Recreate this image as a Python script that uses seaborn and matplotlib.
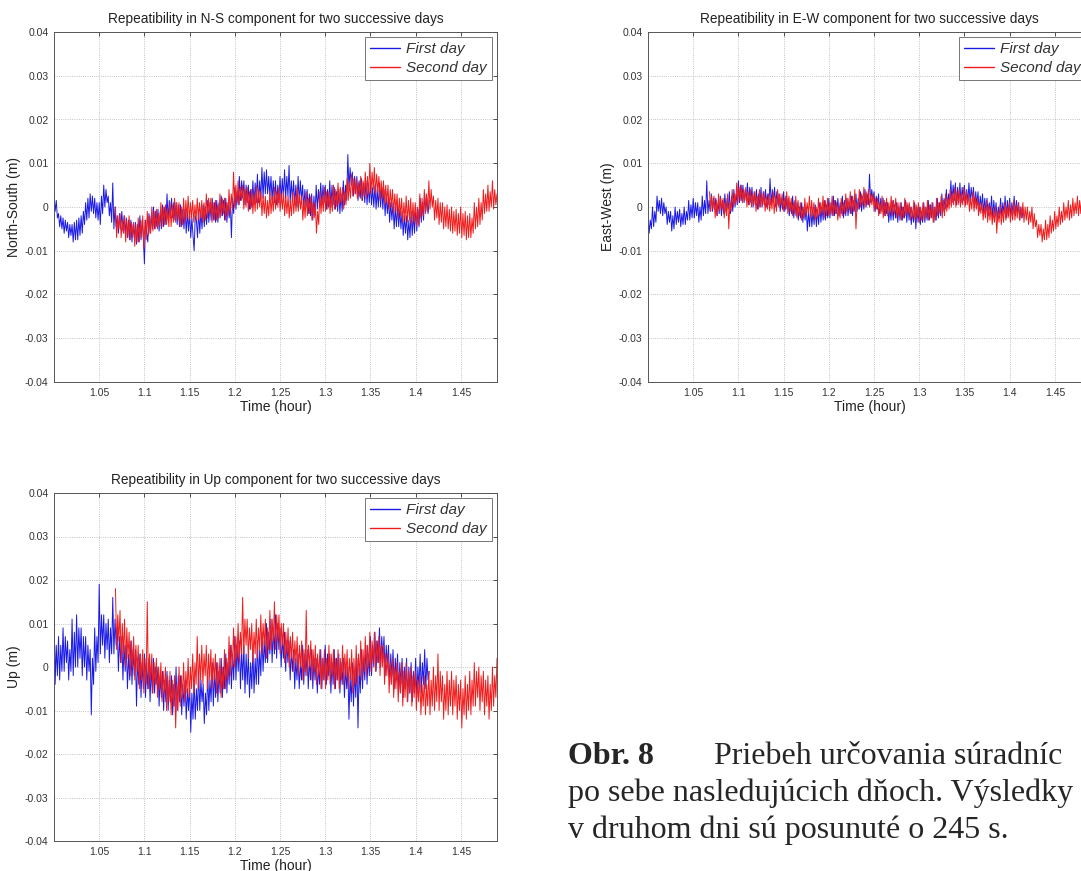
import numpy as np
import pandas as pd
import matplotlib
matplotlib.use("Agg")
import matplotlib.pyplot as plt
import matplotlib.ticker as mticker
from matplotlib.lines import Line2D
import seaborn as sns

# time spans (hour) of the two days, second day shifted by 245 s
first_start, first_end = 1.0, 1.415
second_start, second_end = 1.068, 1.49

# values, in mm (4 samples per 0.005 h)
ns_first = [
    2.5, -1, 1.5, -2.5, -1.5, -4.5, -2, -5, -2.5, -6, -3, -5.5,
    -3.5, -7, -4, -6.5, -4, -8, -3.5, -7.5, -3, -7.5, -2.5, -6.5,
    -2, -6, -1, -4, 1, -3, 2, -2.5, 3, -1, 2.5, -1.5,
    2, -2.5, 1, -3, 1, -4, 2.5, -1.5, 5, 0, 4, 1,
    2.5, -2, 1, -3.5, 5.5, -5, 0, -4.5, -2, -6, -1.5, -5,
    -1, -5.5, -2, -6, -2.5, -7, -3, -7.5, -3, -8, -4, -7,
    -3.5, -8.5, -4, -8, -2, -7.5, -3, -6.5, -13, -3, -6, -8,
    -1.5, -6, -2, -5, 0, -5, -1, -4.5, -0.5, -5.5, -1, -5,
    0.5, -4.5, 0, -4, 3, -3, 1.5, -2.5, 2, -2.5, 1, -3,
    1, -4, 0.5, -4.5, 0.5, -4.5, -0.5, -5, -0.5, -6, -1, -5.5,
    -1.5, -7, -2.5, -6.5, -10, -2, -3, -7, -0.5, -6, -1, -5,
    0.5, -4.5, 0, -4, 1.5, -3.5, 1, -3, 2, -3, 1, -3.5,
    1.5, -3.5, 1, -2.5, 2.5, -2, 1.5, -3, 2, -3.5, 1, -2.5,
    1, -7, 2, -1.5, 4.5, -0.5, 3.5, 0.5, 7, 1.5, 6, 2,
    6, 0.5, 5, 1, 5, -0.5, 4, 0, 6, 0.5, 5.5, 1,
    7.5, 1, 6, 2, 9, 2, 8, 3, 8.5, 3, 7, 2.5,
    7, 1.5, 6, 1, 6, 0.5, 5, 1, 7, 1.5, 6.5, 2,
    8.5, 2, 7, 2.5, 9.5, 1, 6, 1.5, 6, 0.5, 5, 0,
    7, 1, 6, 1.5, 5, -0.5, 4, 0, 4, -1.5, 3, -2,
    3, -3, 2.5, -2, 5, -0.5, 4, 0, 5.5, 0.5, 5, 1,
    5, -0.5, 4, 0, 6, 0, 5, 0.5, 4.5, -0.5, 3.5, -1,
    4, -1.5, 3, -1, 6, 0.5, 5, 1.5, 12, 4, 9, 5,
    8, 2.5, 7, 3, 7, 1.5, 6, 2, 6.5, 1.5, 5.5, 1,
    6, 0.5, 5, 1, 5.5, 0.5, 4.5, 0, 5, -0.5, 4, 0,
    5.5, 0, 4.5, -0.5, 4, -2, 3, -1.5, 2, -3.5, 1, -3,
    1, -5, 0, -4.5, 0.5, -4.5, -0.5, -5, -1, -6.5, -2, -6,
    -2, -7.5, -3, -7, -1, -6.5, -1.5, -6, 0, -5.5, -0.5, -4.5,
    2, -3.5, 1, -3, 3, -1, 2, -1.5, 1.5]
ns_second = [
    0, -7, -2, -5, -1.5, -7, -3, -6, -2, -8, -3, -7,
    -2, -7.5, -3.5, -6.5, -3.5, -9, -4, -8, -2.5, -8, -3, -7,
    -2, -9.5, -3, -7.5, -1, -6.5, -2, -6, 0, -5.5, -1, -5,
    -0.5, -5, -1.5, -4.5, 1, -4.5, 0, -4, 0.5, -4, -0.5, -4.5,
    1, -4.5, 0.5, -3.5, 2, -3.5, 1, -3, 1, -4.5, 0, -4,
    2, -3.5, 1.5, -2.5, 2.5, -3, 1, -2.5, 1.5, -3.5, 0.5, -3,
    2, -3, 1, -2.5, 1.5, -3.5, 1, -3, 3, -2.5, 2, -1.5,
    2, -3.5, 1, -3, 1.5, -3, 0.5, -2.5, 3, -2, 2, -1.5,
    2, -3, 1, -2, 4, -1.5, 3, -0.5, 8, 0, 5, 1,
    6, 0.5, 4.5, 1.5, 5, -0.5, 4, 0, 4.5, -1, 3.5, -0.5,
    4, -1.5, 3, -1, 5, -0.5, 4, 0, 3.5, -2, 2.5, -1.5,
    2.5, -2.5, 1.5, -2, 3.5, -1.5, 2.5, -1, 4.5, -0.5, 3.5, 0,
    4.5, -1, 3, -0.5, 3.5, -2, 2.5, -1.5, 2.5, -2.5, 1.5, -2,
    3.5, -1.5, 2.5, -1, 4.5, -1, 3, -0.5, 2.5, -3, 1.5, -2.5,
    3.5, -2, 2, -1.5, 2.5, -3, 1, -2.5, 1, -6, -1, -4,
    3.5, -1.5, 2.5, -1, 4.5, -1, 3.5, -0.5, 3.5, -1.5, 2.5, -1,
    5, -0.5, 4, 0, 5.5, 0.5, 4.5, 1, 4.5, -0.5, 3.5, 0.5,
    6.5, 1.5, 5.5, 2, 7.5, 2.5, 6.5, 3, 6.5, 2, 5.5, 2.5,
    7, 1.5, 6, 2.5, 8, 2, 7, 3, 10, 3, 8, 4,
    9, 3, 7.5, 3.5, 7, 1.5, 6, 2, 6, 0.5, 5, 1,
    5, -0.5, 4, 0, 4, -1.5, 3, -1, 3, -2.5, 2, -2,
    2, -3.5, 1, -3, 2.5, -3.5, 1.5, -3, 2, -4, 1, -3.5,
    1, -4.5, 0, -4, 3, -2.5, 2, -2, 4, -1.5, 3, -1,
    6, -0.5, 4, 0, 2.5, -3, 1.5, -2.5, 2, -4, 1, -3.5,
    1, -5, 0, -4.5, 0.5, -5, -0.5, -5.5, 0, -6, -1, -5.5,
    -0.5, -6.5, -1.5, -6, 0, -7, -1.5, -6.5, -1, -7.5, -2, -7,
    -1.5, -7, -2.5, -6, 1, -5, 0, -4.5, 2, -4, 1, -3,
    4, -1.5, 3, -1, 5, -1, 3.5, 0, 6, -0.5, 4, 0.5, 3]

ew_first = [
    -2, -6, -3, -5, 0, -4.5, -1, -3.5, 2.5, -1, 1.5, -1.5,
    2, -2, 1, -1.5, 0, -4, -1, -3.5, -1, -5.5, -2, -5,
    0, -4, -1, -3.5, -0.5, -4.5, -1.5, -4, 0, -4, -1, -3,
    1.5, -3, 0.5, -2.5, 2, -2.5, 1, -2, 1, -3.5, 0, -3,
    2.5, -2, 1.5, -1.5, 6, -1.5, 1.5, -1, 3, -1, 2, -0.5,
    2, -2, 1, -1.5, 2.5, -2, 1.5, -1.5, 3, -1, 2, -0.5,
    3.5, -1.5, 2.5, -1, 4, 0, 3, 0.5, 6, 1, 5, 1.5,
    5, 1, 4, 1.5, 5.5, 0.5, 4.5, 1, 4.5, 0, 3.5, 0.5,
    4, -0.5, 3, 0, 4.5, 0, 3.5, 0.5, 4, 0, 3, 0.5,
    6.5, 0.5, 4, 1, 4.5, 0, 3.5, 0.5, 3, -1, 2, -0.5,
    3.5, -1, 2.5, -0.5, 2, -2, 1, -1.5, 2.5, -2.5, 1.5, -2,
    1, -3, 0, -2.5, 1, -3.5, 0, -3, 0, -5.5, -1, -4.5,
    0, -4.5, -1, -4, 0.5, -4.5, -0.5, -4, 1, -3.5, 0, -3,
    1.5, -3, 0.5, -2.5, 2, -2.5, 1, -2, 2.5, -2, 1.5, -1.5,
    2, -2, 1, -1.5, 2.5, -2.5, 1.5, -2, 2, -2, 1, -1.5,
    2.5, -2, 1.5, -1, 3, -1, 2, -0.5, 3.5, -1, 2.5, -0.5,
    4, 0, 3, 0.5, 7.5, 1, 4, 1.5, 3.5, -1, 2.5, -0.5,
    3, -1.5, 2, -1, 2, -2, 1, -1.5, 1, -3.5, 0, -3,
    1.5, -3, 0.5, -2.5, 1, -3.5, 0, -3, 1, -3, 0, -2.5,
    1.5, -3.5, 0.5, -3, 0, -4, -1, -3.5, 1, -5, 0, -3.5,
    0, -4, -1, -3.5, 1, -3.5, 0, -3, 1.5, -3, 0.5, -2.5,
    1, -3.5, 0, -3, 2, -2.5, 1, -2, 3, -1, 2, -0.5,
    4, 0, 3, 0.5, 6, 1, 5, 1.5, 5.5, 0.5, 4.5, 1,
    5.5, 1, 4.5, 1.5, 5, 0.5, 4, 1, 5.5, 1, 4.5, 1.5,
    4.5, 0, 3.5, 0.5, 3.5, -1, 2.5, -0.5, 3, -1.5, 2, -1,
    2, -2, 1, -1.5, 2.5, -2.5, 1.5, -2, 1, -3, 0, -2.5,
    2, -2, 1, -1.5, 2.5, -2.5, 1.5, -2, 2, -2, 1, -1.5,
    2.5, -2, 1.5, -1.5, 1, -3, 0, -2.5, -0.5]
ew_second = [
    3.5, -1, 2.5, -0.5, 2.5, -2.5, 1.5, -2, 3, -1, 2, -0.5,
    2, -2.5, 1, -2, 3, -5, 1, -1, 4, 0, 3, 0.5,
    5.5, 1, 4.5, 1.5, 5, 1, 4, 1.5, 4.5, 0, 3.5, 0.5,
    4, 0, 3, 0.5, 3.5, -1, 2.5, -0.5, 4, 0, 3, 0.5,
    3.5, -1, 2.5, -0.5, 3, -1, 2, -0.5, 3.5, -1.5, 2.5, -1,
    4, 0, 3, 0.5, 3, -1, 2, -0.5, 3.5, -1.5, 2.5, -1,
    2, -2, 1, -1.5, 2.5, -2.5, 1.5, -2, 1, -3, 0, -2.5,
    2, -2, 1, -1.5, 2.5, -2.5, 1.5, -2, 1, -3, 0, -2.5,
    2, -2, 1, -1.5, 2.5, -2.5, 1.5, -2, 2, -2, 1, -1.5,
    2.5, -2, 1.5, -1.5, 1, -3, 0, -2.5, 2, -2, 1, -1.5,
    3, -1, 2, -0.5, 3.5, -1.5, 2.5, -1, 4, -5, 1, -0.5,
    4, 0, 3, 0.5, 4.5, 0, 3.5, 0.5, 4, 0, 3, 0.5,
    3, -1, 2, -0.5, 2, -2, 1, -1.5, 2.5, -2.5, 1.5, -2,
    2, -2, 1, -1.5, 2.5, -2, 1.5, -1.5, 2, -2.5, 1, -2,
    1, -3, 0, -2.5, 2, -2, 1, -1.5, 1, -3, 0, -2.5,
    1.5, -3, 0.5, -2.5, 1, -3.5, 0, -3, 1, -3, 0, -2.5,
    1.5, -3, 0.5, -2.5, 1, -3.5, 0, -3, 2, -2, 1, -1.5,
    2.5, -2.5, 1.5, -2, 3, -1, 2, -0.5, 4, 0, 3, 0.5,
    4.5, 0, 3.5, 0.5, 4, 0, 3, 0.5, 4.5, 0, 3.5, 0.5,
    3, -1, 2, -0.5, 3.5, -1, 2.5, -0.5, 2, -2, 1, -1.5,
    1, -3, 0, -2.5, 1.5, -3.5, 0.5, -3, 0, -4, -1, -3.5,
    0, -6, -1, -3.5, 0.5, -4, -0.5, -3.5, 1, -3, 0, -2.5,
    1, -3.5, 0, -3, 1.5, -3, 0.5, -2.5, 1, -3, 0, -2.5,
    1, -3.5, 0, -3, 0, -4, -1, -3.5, 0, -5, -1.5, -4.5,
    -3, -7, -4, -6.5, -4, -8, -5, -7.5, -3, -7.5, -4, -7,
    -2, -6, -3, -5.5, -1, -5, -2, -4.5, 0, -4, -1, -3.5,
    1, -3, 0, -2.5, 1.5, -3, 0.5, -2.5, 2, -2, 1, -1.5,
    2.5, -2, 1.5, -1.5, 3, -1, 2, -0.5, 4.5, 0, 3.5, 0.5, 2.5]

up_first = [
    14, -4, 5, -2, 7, -3, 5, -1, 9, -1, 7, 1,
    6, -3, 4, -1, 11, -2, 8, 0, 12, 0, 9, 2,
    9, -2, 7, 0, 7, -3, 5, -1, 4, -11, 2, -4,
    9, -1, 7, 1, 19, 3, 12, 5, 12, 2, 10, 4,
    11, 1, 9, 3, 16, 3, 11, 5, 9, -1, 7, 1,
    7, -3, 5, -1, 5, -5, 3, -3, 6, -4, 4, -2,
    4, -9, 2, -4, 3, -7, 1, -5, 3, -7, 1, -5,
    2, -8, 0, -6, 2, -6, 0, -4, 0, -9, -2, -7,
    -1, -10, -3, -8, -1, -10, -3, -8, -2, -11, -4, -9,
    0, -10, -2, -8, -2, -11, -4, -9, -3, -12, -5, -10,
    -4, -15, -6, -12, -3, -12, -5, -10, -1, -10, -3, -8,
    -4, -13, -6, -11, -1, -10, -3, -8, 1, -9, -1, -7,
    1, -8, -1, -6, 2, -7, 0, -5, 3, -6, 1, -4,
    5, -5, 3, -3, 7, -3, 5, -1, 6, -5, 4, -3,
    5, -6, 3, -4, 3, -7, 1, -5, 4, -6, 2, -4,
    6, -4, 4, -2, 8, -1, 6, 1, 10, 1, 8, 3,
    11, 1, 9, 3, 12, 2, 10, 4, 9, 0, 7, 2,
    8, -1, 6, 1, 6, -3, 4, -1, 4, -5, 2, -3,
    3, -5, 1, -3, 5, -4, 3, -2, 4, -5, 2, -3,
    4, -5, 2, -3, 2, -6, 0, -4, 4, -5, 2, -3,
    5, -4, 3, -2, 3, -6, 1, -4, 4, -5, 2, -3,
    3, -6, 1, -4, 2, -7, 0, -5, 0, -12, -2, -8,
    1, -9, -1, -7, 2, -14, 0, -6, 4, -5, 2, -3,
    5, -4, 3, -2, 7, -2, 5, 0, 8, -1, 6, 1,
    9, 0, 7, 2, 7, -2, 5, 0, 5, -4, 3, -2,
    4, -5, 2, -3, 3, -6, 1, -4, 2, -7, 0, -5,
    2, -8, 0, -6, 1, -8, -1, -6, 2, -7, 0, -5,
    3, -6, 1, -4, 4, -5, 2, -3, -1]
up_second = [
    18, 4, 12, 6, 13, 1, 10, 3, 11, 0, 9, 2,
    8, -2, 6, 0, 7, -3, 5, -1, 5, -5, 3, -3,
    4, -6, 2, -4, 15, -5, 3, -3, 3, -6, 1, -4,
    2, -7, 0, -5, 1, -8, -1, -6, 0, -10, -2, -8,
    -1, -11, -3, -9, -2, -14, -4, -10, 0, -9, -2, -7,
    1, -8, -1, -6, 2, -7, 0, -5, 3, -6, 1, -4,
    7, -5, 3, -3, 5, -4, 3, -2, 5, -5, 3, -3,
    4, -5, 2, -3, 3, -6, 1, -4, 2, -7, 0, -5,
    4, -5, 2, -3, 7, -2, 5, 0, 9, 0, 7, 2,
    10, 1, 8, 3, 16, 3, 11, 5, 11, 2, 9, 4,
    10, 1, 8, 3, 11, 2, 9, 4, 12, 3, 10, 5,
    11, 2, 9, 4, 13, 4, 11, 6, 15, 4, 12, 6,
    12, 3, 10, 5, 10, 1, 8, 3, 9, 0, 7, 2,
    8, -1, 6, 1, 7, -2, 5, 0, 6, -3, 4, -1,
    13, -2, 5, 0, 6, -3, 4, -1, 5, -4, 3, -2,
    4, -5, 2, -3, 4, -5, 2, -3, 5, -4, 3, -2,
    4, -5, 2, -3, 4, -5, 2, -3, 5, -4, 3, -2,
    4, -5, 2, -3, 4, -6, 2, -4, 5, -4, 3, -2,
    6, -3, 4, -1, 7, -2, 5, 0, 8, -1, 6, 1,
    8, -1, 6, 1, 7, -2, 5, 0, 5, -4, 3, -2,
    3, -6, 1, -4, 2, -7, 0, -5, 1, -8, -1, -6,
    1, -9, -1, -7, 1, -8, -1, -6, 0, -9, -2, -7,
    -1, -10, -3, -8, -2, -11, -4, -9, -2, -11, -4, -9,
    -1, -11, -3, -9, 0, -10, -2, -8, 3, -10, -1, -8,
    -2, -12, -4, -10, -1, -11, -3, -9, -1, -11, -3, -9,
    -2, -12, -4, -10, -3, -14, -5, -11, -2, -12, -4, -10,
    -1, -11, -3, -9, 1, -9, -1, -7, 0, -10, -2, -8,
    -1, -11, -3, -9, -2, -12, -4, -10, 0, -9, -2, -7, 2]

panels = [
    ("Repeatibility in N-S component for two successive days", "North-South (m)", ns_first, ns_second),
    ("Repeatibility in E-W component for two successive days", "East-West (m)", ew_first, ew_second),
    ("Repeatibility in Up component for two successive days", "Up (m)", up_first, up_second),
]

yticks = [-0.04, -0.03, -0.02, -0.01, 0, 0.01, 0.02, 0.03, 0.04]
xticks = [1.05, 1.1, 1.15, 1.2, 1.25, 1.3, 1.35, 1.4, 1.45]

caption_head = "Obr. 8"
caption_lines = ["Priebeh určovania súradníc",
                 "po sebe nasledujúcich dňoch. Výsledky",
                 "v druhom dni sú posunuté o 245 s."]

blue, red = "#1a1ae6", "#f01c1c"

sns.set_style("white")
plt.rcParams['font.family'] = ['Liberation Sans', 'DejaVu Sans']

fig = plt.figure(figsize=(10.81, 8.71), dpi=100)
boxes = [
    [54 / 1081, 1 - 382 / 871, 443 / 1081, 350 / 871],
    [648 / 1081, 1 - 382 / 871, 443 / 1081, 350 / 871],
    [54 / 1081, 1 - 841 / 871, 443 / 1081, 348 / 871],
]

for box, (title, ylab, first, second) in zip(boxes, panels):
    ax = fig.add_axes(box)
    d1 = pd.DataFrame({"t": np.linspace(first_start, first_end, len(first)),
                       "v": np.array(first) / 1000})
    d2 = pd.DataFrame({"t": np.linspace(second_start, second_end, len(second)),
                       "v": np.array(second) / 1000})
    sns.lineplot(data=d1, x="t", y="v", ax=ax, color=blue, lw=0.7,
                 estimator=None, sort=False, legend=False)
    sns.lineplot(data=d2, x="t", y="v", ax=ax, color=red, lw=0.7,
                 estimator=None, sort=False, legend=False)
    ax.set_xlim(1.0, 1.49)
    ax.set_ylim(-0.04, 0.04)
    ax.set_xticks(xticks)
    ax.set_yticks(yticks)
    ax.xaxis.set_major_formatter(mticker.FormatStrFormatter('%g'))
    ax.yaxis.set_major_formatter(mticker.FormatStrFormatter('%g'))
    ax.tick_params(direction="in", length=3, width=0.6, labelsize=7.5,
                   colors="#333333", top=True, right=True, pad=4)
    ax.grid(True, linestyle=":", color="#b0b0b0", lw=0.6)
    for s in ax.spines.values():
        s.set_color("#555555")
        s.set_linewidth(0.7)
    ax.set_title(title, fontsize=9.8, color="#222222", pad=6.5)
    ax.set_xlabel("Time (hour)", fontsize=10, labelpad=1.5, color="#222222")
    ax.set_ylabel(ylab, fontsize=10, labelpad=3, color="#222222")
    handles = [Line2D([], [], color=blue, lw=1.0), Line2D([], [], color=red, lw=1.0)]
    leg = ax.legend(handles, ["First day", "Second day"], loc="upper right",
                    prop={"style": "italic", "size": 11},
                    fancybox=False, edgecolor="#777777", framealpha=1,
                    handlelength=2.0, borderaxespad=0.35, borderpad=0.3,
                    labelspacing=0.35, handletextpad=0.4)
    leg.get_frame().set_linewidth(0.7)
    for txt in leg.get_texts():
        txt.set_color("#333333")

serif = ['Liberation Serif', 'DejaVu Serif']
fig.text(568 / 1081, 1 - 756 / 871, caption_head, family=serif, weight="bold",
         fontsize=23, va="center", ha="left")
for i, line in enumerate(caption_lines):
    x = 714 if i == 0 else 568
    fig.text(x / 1081, 1 - (756 + 37 * i) / 871, line, family=serif,
             fontsize=23, va="center", ha="left")

fig.savefig("out.png", dpi=100)
